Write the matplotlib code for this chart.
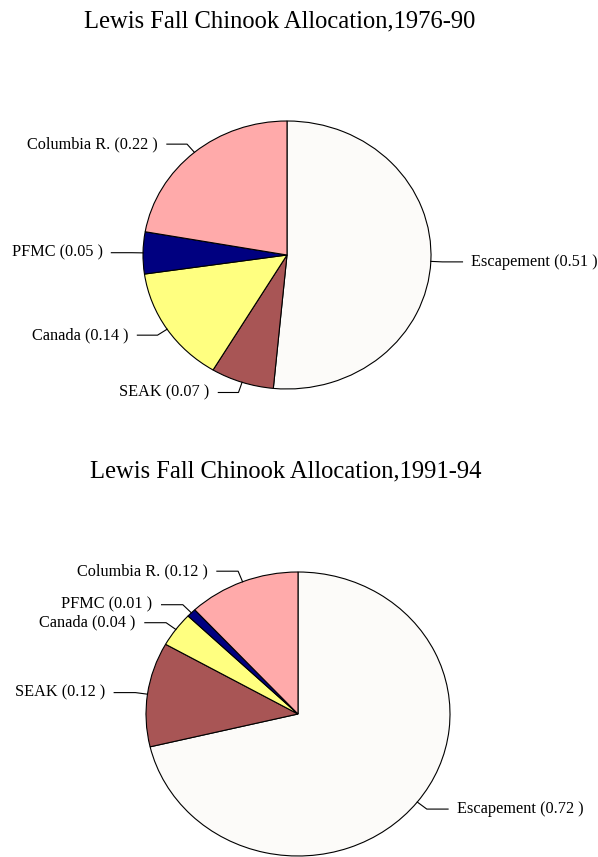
import numpy as np
import matplotlib
matplotlib.use("Agg")
import matplotlib.pyplot as plt

# data
groups = ["Escapement", "SEAK", "Canada", "PFMC", "Columbia R."]
share_7690 = [0.51, 0.07, 0.14, 0.05, 0.22]
share_9194 = [0.72, 0.12, 0.04, 0.01, 0.12]
titles = ["Lewis Fall Chinook Allocation,1976-90",
          "Lewis Fall Chinook Allocation,1991-94"]
colors = ["#FCFBF9", "#A85555", "#FFFF80", "#000080", "#FFAAAA"]

W, H = 598, 857
plt.rcParams['font.family'] = ['Liberation Serif', 'DejaVu Serif']

fig = plt.figure(figsize=(W / 100, H / 100), dpi=100)
fig.set_facecolor('white')


def draw_pie(vals, title, cx, cy, rx, ry, tx, ty):
    # full-figure axes, data units = pie radius (slightly elliptical like the original)
    ax = fig.add_axes([0, 0, 1, 1])
    ax.patch.set_alpha(0)
    ax.pie(vals, colors=colors, startangle=90, counterclock=False,
           wedgeprops=dict(edgecolor='black', linewidth=0.8))
    ax.set_aspect('auto')
    ax.set_xlim(-cx / rx, (W - cx) / rx)
    ax.set_ylim(-(H - cy) / ry, cy / ry)
    ax.axis('off')

    v = np.array(vals) / np.sum(vals)
    mids = 90 - 360 * (np.cumsum(v) - v / 2)
    for name, val, a in zip(groups, vals, mids):
        t = np.deg2rad(a)
        x0, y0 = np.cos(t), np.sin(t)
        x1, y1 = 1.08 * x0, 1.08 * y0
        s = 1 if x0 >= 0 else -1
        x2 = x1 + s * 0.14
        ax.plot([x0, x1, x2], [y0, y1, y1], color='black', lw=0.8,
                clip_on=False)
        ax.text(x2 + s * 0.06, y1, f"{name} ({val:.2f} )",
                ha='left' if s > 0 else 'right', va='center',
                fontsize=11.7, clip_on=False)
    fig.text(tx / W, 1 - ty / H, title, ha='center', va='center',
             fontsize=17.7)


draw_pie(share_7690, titles[0], 287, 255, 144, 134, 280, 21)
draw_pie(share_9194, titles[1], 298, 714, 152, 142, 286, 471)

fig.savefig("out.png", dpi=100, facecolor='white')
